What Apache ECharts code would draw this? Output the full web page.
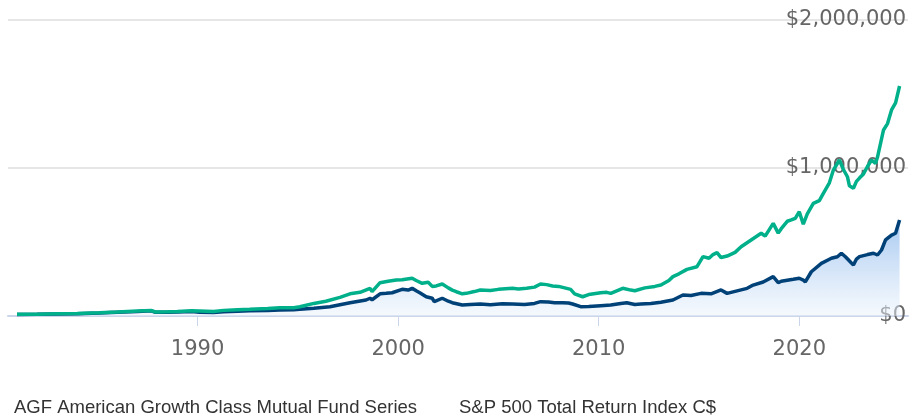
<!DOCTYPE html>
<html>
<head>
<meta charset="utf-8">
<script src="https://cdn.jsdelivr.net/npm/echarts@6/dist/echarts.min.js"></script>
<style>
  html, body { margin: 0; padding: 0; background: #fff; }
  #main { width: 918px; height: 418px; }
</style>
</head>
<body>
<div id="main"></div>
<script>
// growth of $10,000 (decimal years)
const agfDates = [
  1981.0, 1982.0, 1983.0, 1984.0, 1985.1, 1986.0, 1987.0, 1987.7, 1987.9, 1988.5,
  1989.0, 1989.7, 1990.1, 1990.8, 1991.3, 1992.0, 1992.6, 1993.5, 1994.1, 1994.8,
  1995.1, 1995.8, 1996.6, 1997.6, 1998.4, 1998.6, 1998.7, 1999.1, 1999.4, 1999.7,
  2000.2, 2000.5, 2000.7, 2000.9, 2001.1, 2001.4, 2001.7, 2001.8, 2002.2, 2002.5,
  2002.7, 2003.2, 2003.6, 2004.1, 2004.6, 2005.2, 2005.7, 2006.3, 2006.8, 2007.1,
  2007.5, 2007.8, 2008.2, 2008.5, 2008.7, 2009.1, 2009.5, 2010.1, 2010.6, 2011.1,
  2011.4, 2011.8, 2012.1, 2012.6, 2013.1, 2013.7, 2014.2, 2014.6, 2015.1, 2015.6,
  2016.1, 2016.4, 2016.9, 2017.4, 2017.7, 2018.2, 2018.7, 2018.95, 2019.1, 2019.7,
  2020.0, 2020.2, 2020.3, 2020.6, 2021.1, 2021.6, 2021.9, 2022.1, 2022.3, 2022.6,
  2022.7, 2022.85, 2023.0, 2023.4, 2023.7, 2023.9, 2024.1, 2024.3, 2024.6, 2024.8,
  2025.0
];
const agfValues = [
  10000, 11000, 14000, 16000, 20000, 25000, 30000, 35000, 25000, 25000,
  27000, 30000, 25000, 24000, 28000, 32000, 35000, 38000, 40000, 42000,
  45000, 52000, 63000, 90000, 108000, 120000, 110000, 150000, 153000, 157000,
  180000, 175000, 187000, 170000, 155000, 130000, 120000, 97000, 120000, 100000,
  90000, 74000, 78000, 81000, 76000, 82000, 81000, 78000, 85000, 97000,
  95000, 90000, 90000, 88000, 81000, 63000, 65000, 70000, 74000, 85000,
  90000, 78000, 81000, 85000, 93000, 108000, 142000, 138000, 153000, 150000,
  176000, 153000, 170000, 187000, 209000, 230000, 266000, 225000, 235000, 248000,
  255000, 243000, 230000, 299000, 356000, 390000, 400000, 424000, 400000, 358000,
  345000, 385000, 401000, 415000, 424000, 412000, 446000, 514000, 547000, 559000,
  649000
];

const spDates = [
  1981.0, 1982.0, 1983.0, 1984.0, 1985.1, 1986.0, 1987.0, 1987.7, 1987.9, 1988.5,
  1989.0, 1989.7, 1990.1, 1990.8, 1991.3, 1992.0, 1992.6, 1993.5, 1994.1, 1994.8,
  1995.1, 1995.8, 1996.4, 1997.1, 1997.6, 1998.1, 1998.6, 1998.7, 1999.1, 1999.5,
  1999.9, 2000.2, 2000.7, 2000.9, 2001.2, 2001.5, 2001.7, 2001.9, 2002.2, 2002.5,
  2002.7, 2002.9, 2003.2, 2003.4, 2003.8, 2004.1, 2004.6, 2005.0, 2005.7, 2006.0,
  2006.4, 2006.8, 2007.1, 2007.4, 2007.7, 2008.0, 2008.3, 2008.6, 2008.8, 2009.2,
  2009.5, 2010.1, 2010.4, 2010.6, 2011.2, 2011.6, 2011.8, 2012.3, 2012.8, 2013.1,
  2013.5, 2013.7, 2014.0, 2014.4, 2014.9, 2015.2, 2015.5, 2015.7, 2015.9, 2016.1,
  2016.4, 2016.8, 2017.1, 2017.6, 2018.1, 2018.3, 2018.7, 2018.95, 2019.1, 2019.4,
  2019.6, 2019.8, 2020.0, 2020.2, 2020.4, 2020.7, 2021.0, 2021.2, 2021.5, 2021.7,
  2022.0, 2022.2, 2022.4, 2022.5, 2022.7, 2022.85, 2023.0, 2023.2, 2023.4, 2023.6,
  2023.8, 2023.9, 2024.2, 2024.4, 2024.6, 2024.8, 2025.0
];
const spValues = [
  11000, 12000, 15000, 17000, 22000, 27000, 33000, 37000, 27000, 28000,
  30000, 36000, 34000, 30000, 38000, 43000, 45000, 50000, 55000, 56000,
  62000, 85000, 100000, 126000, 150000, 160000, 187000, 165000, 225000, 235000,
  243000, 245000, 255000, 240000, 221000, 228000, 200000, 203000, 216000, 190000,
  175000, 164000, 150000, 153000, 165000, 176000, 172000, 180000, 187000, 183000,
  187000, 195000, 216000, 212000, 203000, 200000, 190000, 180000, 150000, 130000,
  145000, 157000, 160000, 153000, 187000, 175000, 171000, 190000, 200000, 209000,
  240000, 266000, 285000, 315000, 333000, 401000, 390000, 415000, 428000, 395000,
  405000, 430000, 468000, 514000, 559000, 540000, 626000, 560000, 590000, 640000,
  649000, 660000, 705000, 620000, 690000, 761000, 780000, 829000, 900000, 986000,
  1054000, 990000, 941000, 880000, 863000, 910000, 932000, 960000, 1010000, 1054000,
  1030000, 1074000, 1257000, 1300000, 1392000, 1440000, 1554000
];

const yearTicks = [1990, 2000, 2010, 2020];
const seriesNames = ["AGF American Growth Class Mutual Fund Series", "S&P 500 Total Return Index C$"];

const zip = (xs, ys) => xs.map((x, i) => [x, ys[i]]);

const chart = echarts.init(document.getElementById("main"));

const option = {
  animation: false,
  grid: { left: 8, right: 10, top: 20, bottom: 102 },
  legend: {
    left: 4,
    top: 393,
    icon: "rect",
    itemWidth: 0,
    itemHeight: 0,
    itemGap: 37,
    data: seriesNames,
    textStyle: { fontFamily: "Liberation Sans, Arial", fontSize: 18.5, color: "#333" },
  },
  xAxis: {
    type: "value",
    min: 1980.55,
    max: 2025.42,
    splitLine: { show: false },
    axisLine: { show: true, lineStyle: { color: "#ccd6eb", width: 2 } },
    axisTick: {
      show: true,
      customValues: yearTicks,
      length: 10,
      lineStyle: { color: "#ccd6eb", width: 1 },
    },
    axisLabel: {
      customValues: yearTicks,
      margin: 23,
      fontFamily: "DejaVu Sans",
      fontSize: 21,
      color: "#666",
      formatter: (v) => String(v),
    },
  },
  yAxis: {
    type: "value",
    position: "right",
    min: 0,
    max: 2000000,
    interval: 1000000,
    axisLine: { show: false },
    axisTick: { show: false },
    splitLine: { lineStyle: { color: "#e6e6e6", width: 2 } },
    axisLabel: {
      inside: true,
      margin: 2,
      fontFamily: "DejaVu Sans",
      fontSize: 21,
      color: "#666",
      formatter: (v) => "$" + v.toLocaleString("en-US"),
    },
  },
  series: [
    {
      name: seriesNames[0],
      type: "line",
      data: zip(agfDates, agfValues),
      showSymbol: false,
      lineStyle: { color: "#004178", width: 3.5 },
      itemStyle: { color: "#004178" },
      areaStyle: {
        color: new echarts.graphic.LinearGradient(0, 0, 0, 1, [
          { offset: 0, color: "#7fb0ea" },
          { offset: 1, color: "rgba(235,243,252,0.7)" },
        ]),
      },
    },
    {
      name: seriesNames[1],
      type: "line",
      data: zip(spDates, spValues),
      showSymbol: false,
      lineStyle: { color: "#00b08b", width: 3.5 },
      itemStyle: { color: "#00b08b" },
    },
  ],
};

chart.setOption(option);
</script>
</body>
</html>
